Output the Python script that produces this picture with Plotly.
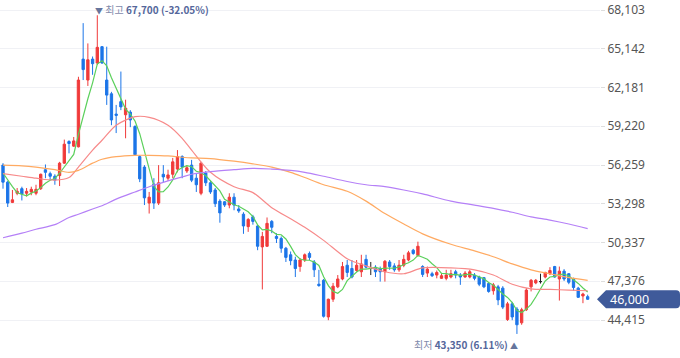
import plotly.graph_objects as go

# ---------------- data ----------------
pre_closes = [56050, 56150, 56550, 54550]   # closes before the first visible candle (for MA5)

opens = [56250, 54950, 53400, 54100, 54450, 54100, 54200, 54100, 54450, 55900,
         55600, 55400, 55450, 56400, 58050, 57700, 57650, 64350, 62750, 64350,
         64050, 65300, 62750, 61700, 60150, 61100, 60100, 60300, 59200, 56900,
         56100, 53350, 54800, 53350, 55550, 55250, 55550, 55950, 56900, 55800,
         56250, 55250, 54100, 55650, 54900, 54350, 53500, 53450, 53200, 53800,
         52900, 52500, 51550, 52300, 51600, 50000, 50050, 51950, 50800, 50650,
         49900, 49400, 49000, 48500, 49000, 49500, 48850, 47150, 47450, 44650,
         46000, 46950, 47550, 48600, 48350, 48200, 48100, 49050, 48350, 48450,
         48350, 48100, 48850, 48550, 48250, 48600, 49000, 49750, 49350, 48500,
         48000, 47950, 47850, 47600, 47600, 47700, 48100, 47850, 47700, 47700,
         47850, 47700, 47650, 47200, 46650, 46950, 46850, 44450, 45650, 45250,
         44200, 45200, 46950, 47250, 47350, 47700, 47950, 48500, 47550, 48150,
         47950, 47550, 46850, 46250, 46200]
highs = [56400, 55050, 54350, 54500, 54600, 54500, 54600, 54750, 55600, 56300,
         55750, 55550, 56500, 58200, 58150, 58400, 63000, 67100, 65550, 64550,
         67700, 65350, 65300, 61850, 60850, 63400, 61250, 60450, 59300, 57000,
         56250, 54200, 55250, 56250, 56250, 55900, 56800, 57400, 57000, 56250,
         56650, 55650, 56500, 55800, 55050, 54500, 53650, 53500, 54100, 54100,
         53200, 52650, 52200, 52450, 51700, 51150, 52250, 52050, 51050, 50800,
         50000, 49650, 49250, 49150, 49500, 49650, 49000, 48250, 47550, 46050,
         47250, 47850, 48850, 49000, 49000, 49000, 49400, 49400, 48850, 48600,
         48500, 49000, 49000, 48750, 49000, 49400, 49700, 49850, 50400, 48600,
         48500, 48100, 48200, 47950, 48250, 48250, 48250, 48000, 48150, 48250,
         48000, 47800, 47700, 47300, 47250, 47100, 47000, 45800, 45800, 45400,
         45350, 46850, 47550, 47550, 47950, 48100, 48450, 48550, 48500, 48300,
         48000, 47650, 46950, 46500, 46350]
lows = [54450, 53050, 53350, 53950, 53550, 53850, 53950, 53950, 54350, 55250,
        55100, 54750, 54650, 56350, 57150, 57650, 57600, 62750, 62300, 63150,
        63900, 64000, 60850, 59300, 58700, 60450, 58300, 59150, 57000, 54950,
        53200, 52550, 52900, 53200, 54950, 55050, 55250, 55700, 55250, 55650,
        54950, 54200, 53950, 54650, 54050, 53050, 51850, 53050, 52950, 52800,
        52600, 51000, 51150, 51700, 49750, 46750, 50000, 51050, 50300, 49550,
        48850, 48600, 47700, 48100, 48850, 49000, 47700, 46950, 44600, 44400,
        45800, 46850, 47450, 47700, 47600, 48100, 47700, 48350, 47850, 47700,
        47350, 47350, 48250, 48100, 48100, 48450, 48900, 49400, 49250, 47700,
        47700, 47700, 47600, 47550, 47450, 47600, 47600, 47100, 47650, 47600,
        47450, 47000, 46850, 46500, 46350, 45550, 45250, 44350, 44400, 43350,
        44050, 45100, 46600, 47150, 47200, 47600, 47850, 47650, 45900, 47400,
        47150, 46650, 46100, 45700, 45950]
closes = [54950, 53350, 53600, 54250, 54050, 54250, 54400, 54400, 55550, 55700,
          55400, 55100, 56400, 57850, 57900, 58100, 62750, 63550, 64300, 64000,
          65250, 64050, 61600, 59700, 60050, 60700, 60600, 59700, 57050, 55200,
          53750, 53800, 53350, 54900, 55350, 55500, 56500, 56900, 56100, 56050,
          55100, 54750, 56400, 54900, 54200, 53300, 52600, 53200, 53800, 53200,
          52750, 51600, 52100, 51950, 50050, 50800, 51800, 51500, 50650, 49900,
          49200, 48950, 48350, 49000, 49400, 49200, 48250, 47050, 44700, 46000,
          47000, 47550, 48500, 48050, 47700, 48600, 48700, 48450, 48350, 48100,
          48100, 48900, 48500, 48250, 48600, 49050, 49550, 49500, 50050, 47900,
          48300, 47800, 48050, 47800, 47850, 47950, 47850, 47700, 48000, 48100,
          47600, 47150, 46950, 46600, 47100, 45950, 45400, 45650, 44650, 44050,
          45200, 46700, 47450, 47450, 47350, 48050, 48200, 47700, 48150, 47550,
          47300, 46900, 46150, 46400, 46000]

# moving averages at these candle positions
ma_idx = [0, 4, 7, 11, 14, 16, 19, 21, 24, 28, 31, 35, 38, 40, 44, 49, 53, 57, 61,
          64, 68, 73, 77, 81, 85, 89, 95, 100, 104, 108, 112, 116, 120, 124]
ma20 = [55600, 55400, 55250, 55100, 55300, 56100, 57400, 58150, 59300, 59950, 59900,
        59300, 58300, 57400, 55700, 54600, 54150, 53000, 52150, 51500, 50500, 49100,
        48550, 48100, 47950, 48400, 48400, 48250, 47850, 47150, 46800, 46750, 46700, 46650]
ma60 = [56250, 56200, 56100, 55900, 55700, 55850, 56400, 56700, 56900, 57000, 57000,
        56950, 56850, 56800, 56750, 56550, 56350, 56100, 55700, 55300, 54750, 54250,
        53500, 52550, 51750, 51000, 50200, 49700, 49250, 48700, 48250, 47950, 47650, 47450]
ma120 = [50700, 51050, 51350, 51700, 52250, 52500, 52900, 53150, 53650, 54200, 54600,
         55050, 55350, 55550, 55750, 55900, 56000, 55950, 55850, 55700, 55400, 55000,
         54750, 54600, 54350, 54050, 53500, 53200, 52950, 52650, 52300, 52050, 51750, 51400]

tick_vals = [44415, 47376, 50337, 53298, 56259, 59220, 62181, 65142, 68103]

# ---------------- styling constants ----------------
UP, DOWN, FLAT = "#f03a3a", "#1c75e8", "#222222"
YMIN, YMAX = 41512, 68867
W, H, R = 680, 358, 80
PW = W - R

n = len(closes)
xs = list(range(n))

def subset(cond):
    o, h, l, c = [], [], [], []
    for i in range(n):
        if cond(opens[i], closes[i]):
            o.append(opens[i]); h.append(highs[i]); l.append(lows[i]); c.append(closes[i])
        else:
            o.append(None); h.append(None); l.append(None); c.append(None)
    return o, h, l, c

fig = go.Figure()
for cond, col in [(lambda o, c: c > o, UP), (lambda o, c: c < o, DOWN), (lambda o, c: c == o, FLAT)]:
    o, h, l, c = subset(cond)
    fig.add_trace(go.Candlestick(
        x=xs, open=o, high=h, low=l, close=c,
        increasing=dict(line=dict(color=col, width=1), fillcolor=col),
        decreasing=dict(line=dict(color=col, width=1), fillcolor=col),
        showlegend=False, hoverinfo="skip"))

# MA5 from closes
allc = pre_closes + closes
ma5 = [sum(allc[i:i + 5]) / 5 for i in range(n)]
fig.add_trace(go.Scatter(x=xs, y=ma5, mode="lines", line=dict(color="#5bd05b", width=1.2),
                         showlegend=False, hoverinfo="skip"))
for ys, col in [(ma20, "#f78a8a"), (ma60, "#ffaa62"), (ma120, "#b580f7")]:
    fig.add_trace(go.Scatter(x=ma_idx, y=ys, mode="lines",
                             line=dict(color=col, width=1.2, shape="spline", smoothing=0.8),
                             showlegend=False, hoverinfo="skip"))

# high / low annotations
hi = max(highs); hi_i = highs.index(hi)
lo = min(lows); lo_i = lows.index(lo)
last = closes[-1]
hi_pct = (last - hi) / hi * 100
lo_pct = (last - lo) / lo * 100
KFONT = "Noto Sans CJK KR, Noto Sans, sans-serif"
fig.add_annotation(x=hi_i, y=hi, xref="x", yref="y", xanchor="left", yanchor="middle",
                   xshift=-4, yshift=6, showarrow=False,
                   text=(f"<span style='font-size:8px;color:#66759c'>▼</span> "
                         f"<span style='color:#7f8aab'>최고</span> <b>{hi:,} ({hi_pct:.2f}%)</b>"),
                   font=dict(family=KFONT, size=10, color="#55679b"))
fig.add_annotation(x=lo_i, y=lo, xref="x", yref="y", xanchor="right", yanchor="middle",
                   xshift=3, yshift=-11, showarrow=False,
                   text=(f"<span style='color:#7f8aab'>최저</span> <b>{lo:,} ({lo_pct:.2f}%)</b> "
                         f"<span style='font-size:8px;color:#66759c'>▲</span>"),
                   font=dict(family=KFONT, size=10, color="#55679b"))

# current price tag
yc = (last - YMIN) / (YMAX - YMIN)
hh = 9 / H
rr = 4 / H
def xp(px):
    return px / PW
path = (f"M {xp(597)},{yc} L {xp(606)},{yc + hh} L {xp(676)},{yc + hh} "
        f"Q {xp(680)},{yc + hh} {xp(680)},{yc + hh - rr} L {xp(680)},{yc - hh + rr} "
        f"Q {xp(680)},{yc - hh} {xp(676)},{yc - hh} L {xp(606)},{yc - hh} Z")
fig.add_shape(type="path", path=path, xref="paper", yref="paper",
              fillcolor="#3f5a9a", line=dict(width=0), layer="above")
fig.add_annotation(x=xp(608), y=yc, xref="paper", yref="paper", xanchor="left", yanchor="middle",
                   showarrow=False, text=f"{last:,}",
                   font=dict(family="Noto Sans, sans-serif", size=12.5, color="white"))

fig.update_layout(
    width=W, height=H, margin=dict(l=0, r=R, t=0, b=0),
    paper_bgcolor="white", plot_bgcolor="white",
    xaxis=dict(range=[-3 / 4.715, (PW - 3) / 4.715], showticklabels=False, showgrid=False,
               zeroline=False, rangeslider=dict(visible=False), fixedrange=True),
    yaxis=dict(side="right", range=[YMIN, YMAX], tickvals=tick_vals,
               ticktext=[f"{v:,}" for v in tick_vals], showgrid=True, gridcolor="#f0f1f5",
               gridwidth=1, zeroline=False, ticks="outside", ticklen=4, tickcolor="#dddddd",
               tickfont=dict(family="Noto Sans, sans-serif", size=12, color="#555555")),
    showlegend=False,
)

fig.write_html("out.html", config={"displayModeBar": False},
               post_script="document.body.style.margin='0';document.body.style.padding='0';")
